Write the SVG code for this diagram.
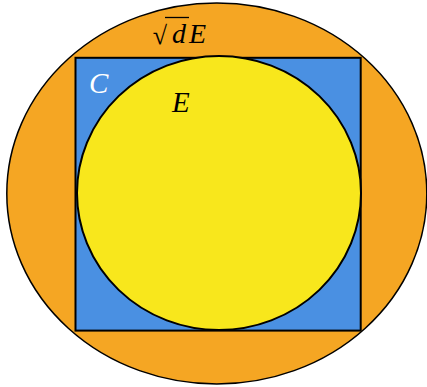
<svg xmlns="http://www.w3.org/2000/svg" width="427" height="387" viewBox="0 0 427 387">
<style>
.shape{stroke:#000;stroke-width:2}
.math{font-family:"Liberation Serif","DejaVu Serif",serif;font-style:italic}
</style>
<rect width="427" height="387" fill="#fff"/>
<g id="outer">
<ellipse cx="216.8" cy="193.5" rx="210" ry="190.5" fill="#F5A623" class="shape" style="stroke-width:1.5"/>
<text class="math" x="167" y="44" font-size="26" style="font-style:normal" text-anchor="end">√</text>
<line x1="165" y1="17.5" x2="189" y2="17.5" stroke="#000" stroke-width="1.3"/>
<text class="math" x="172" y="43" font-size="28">d</text>
<text class="math" x="189" y="43" font-size="28">E</text>
</g>
<g id="square">
<rect x="75.5" y="57.8" width="285.2" height="272.8" fill="#4A90E2" class="shape"/>
<text class="math" x="89" y="93" font-size="29" fill="#fff">C</text>
</g>
<g id="inner">
<ellipse cx="219" cy="193" rx="142" ry="137" fill="#F8E71C" class="shape"/>
<text class="math" x="172" y="112" font-size="29">E</text>
</g>
</svg>
